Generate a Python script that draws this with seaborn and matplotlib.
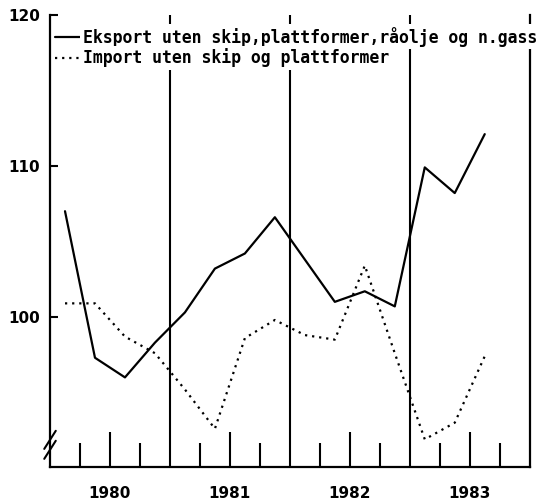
import numpy as np
import pandas as pd
import matplotlib
matplotlib.use("Agg")
import matplotlib.pyplot as plt
import seaborn as sns

# quarterly index values, 1980Q1 - 1983Q3
years = [1980, 1981, 1982, 1983]
quarters = ["1980Q1", "1980Q2", "1980Q3", "1980Q4",
            "1981Q1", "1981Q2", "1981Q3", "1981Q4",
            "1982Q1", "1982Q2", "1982Q3", "1982Q4",
            "1983Q1", "1983Q2", "1983Q3"]
eksport = [107.0, 97.3, 96.0, 98.3, 100.3, 103.2, 104.2, 106.6,
           103.8, 101.0, 101.7, 100.7, 109.9, 108.2, 112.1]
importv = [100.9, 100.9, 98.7, 97.6, 95.2, 92.6, 98.6, 99.8,
           98.8, 98.5, 103.4, 97.6, 91.9, 93.0, 97.4]
label_eks = "Eksport uten skip,plattformer,råolje og n.gass"
label_imp = "Import uten skip og plattformer"


def quarter_pos(q):
    # middle of the quarter as a fractional year
    return int(q[:4]) + (int(q[-1]) - 0.5) / 4


df = pd.DataFrame({
    "pos": [quarter_pos(q) for q in quarters] * 2,
    "value": eksport + importv,
    "serie": [label_eks] * len(quarters) + [label_imp] * len(quarters),
})

sns.set_style("white")
plt.rcParams['font.family'] = ['DejaVu Sans', 'DejaVu Sans Mono']
plt.rcParams['text.color'] = 'black'
plt.rcParams['xtick.color'] = 'black'
plt.rcParams['ytick.color'] = 'black'

fig = plt.figure(figsize=(5.52, 5.03), dpi=100)
ax = fig.add_axes([0.0906, 0.0716, 0.869, 0.899])

sns.lineplot(data=df, x="pos", y="value", hue="serie", style="serie",
             palette=["black", "black"], dashes=[(None, None), (1, 2.2)],
             linewidth=1.6, ax=ax, legend=True)

ax.set_xlim(1980, 1984)
ax.set_ylim(90.07, 120)

# year separators
for y in years[1:]:
    ax.axvline(y, color="black", lw=1.5, zorder=1)

ax.spines["top"].set_visible(False)
for side in ["left", "right", "bottom"]:
    ax.spines[side].set_color("black")
    ax.spines[side].set_linewidth(1.6)

ax.set_yticks([100, 110, 120])
ax.set_yticklabels(["100", "110", "120"], fontsize=11, fontweight="bold")
ax.tick_params(axis="y", direction="in", length=6, width=1.5, pad=7,
               left=True)

# quarter ticks on the bottom, taller at mid-year
ax.set_xticks([y + 0.5 for y in years])
ax.set_xticks([y + f for y in years for f in (0.25, 0.75)], minor=True)
ax.set_xticklabels([str(y) for y in years], fontsize=11, fontweight="bold")
ax.tick_params(axis="x", which="major", direction="in", length=25,
               width=1.5, pad=14, bottom=True)
ax.tick_params(axis="x", which="minor", direction="in", length=17,
               width=1.5, bottom=True)

ax.set_xlabel("")
ax.set_ylabel("")

# axis break marks
tr = ax.transAxes
for y0 in (0.018, 0.040):
    ax.plot([-0.012, 0.012], [y0, y0 + 0.04], transform=tr, color="black",
            lw=1.5, clip_on=False)

leg = ax.legend(loc="upper left", bbox_to_anchor=(0.0, 0.985),
                frameon=False, handlelength=1.7, handletextpad=0.0,
                borderpad=0.1, borderaxespad=0.2, labelspacing=0.12,
                prop={"family": "DejaVu Sans Mono", "weight": "bold",
                      "size": 11.9})
leg.set_zorder(5)
for t in leg.get_texts():
    t.set_color("black")
    t.set_bbox(dict(facecolor="white", edgecolor="none", pad=2))

fig.savefig("out.png", dpi=100, facecolor="white")
